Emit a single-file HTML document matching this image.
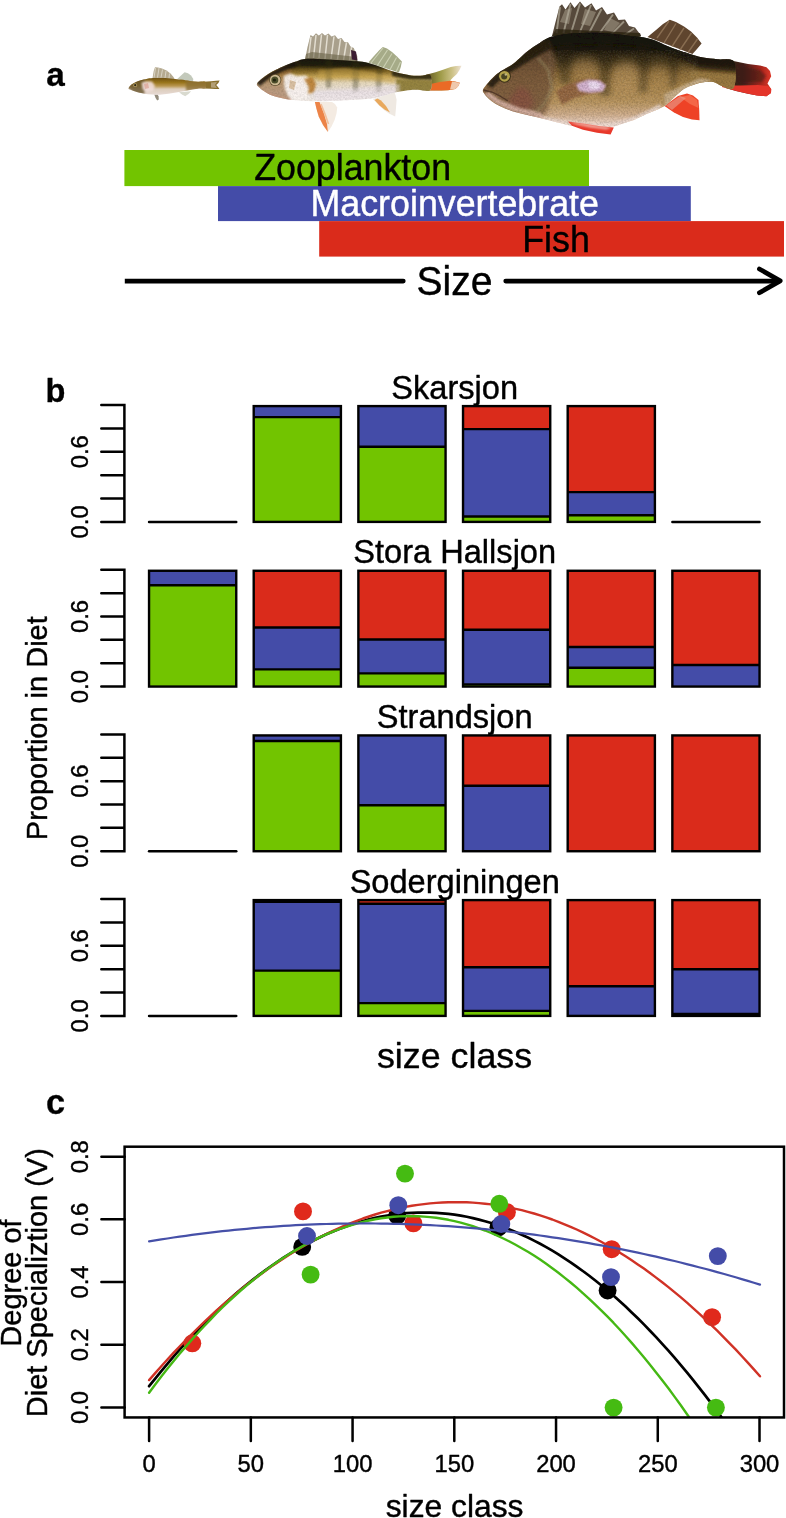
<!DOCTYPE html>
<html lang="en"><head><meta charset="utf-8"><title>Diet figure</title>
<style>html,body{margin:0;padding:0;background:#fff}body{width:786px;height:1518px;overflow:hidden}svg{display:block}text{font-family:"Liberation Sans",sans-serif;fill:#000}</style></head><body>
<svg width="786" height="1518" viewBox="0 0 786 1518">
<rect width="786" height="1518" fill="#fff"/>
<defs>
<filter id="soft" x="-5%" y="-10%" width="110%" height="120%"><feGaussianBlur stdDeviation="0.55"/></filter>
<filter id="b1" x="-30%" y="-30%" width="160%" height="160%"><feGaussianBlur stdDeviation="1.2"/></filter>
<filter id="b2" x="-30%" y="-30%" width="160%" height="160%"><feGaussianBlur stdDeviation="2.5"/></filter>
<filter id="b4" x="-40%" y="-40%" width="180%" height="180%"><feGaussianBlur stdDeviation="4.5"/></filter>
<filter id="scales" x="0" y="0" width="100%" height="100%"><feTurbulence type="fractalNoise" baseFrequency="0.55" numOctaves="2" seed="7"/><feColorMatrix type="matrix" values="0 0 0 0 0  0 0 0 0 0  0 0 0 0 0  1.6 0 0 0 -0.55"/></filter>
<filter id="scalesw" x="0" y="0" width="100%" height="100%"><feTurbulence type="fractalNoise" baseFrequency="0.6" numOctaves="2" seed="3"/><feColorMatrix type="matrix" values="0 0 0 0 1  0 0 0 0 0.95  0 0 0 0 0.85  0 1.6 0 0 -0.6"/></filter>
<linearGradient id="gL" gradientUnits="userSpaceOnUse" x1="0" y1="33" x2="0" y2="129"><stop offset="0" stop-color="#14100a"/><stop offset="0.18" stop-color="#1f190c"/><stop offset="0.3" stop-color="#4a3a1c"/><stop offset="0.42" stop-color="#8a6a36"/><stop offset="0.55" stop-color="#a8844a"/><stop offset="0.72" stop-color="#b8945e"/><stop offset="0.85" stop-color="#d0ae8c"/><stop offset="0.94" stop-color="#ead0c0"/><stop offset="1" stop-color="#f6eae4"/></linearGradient>
<linearGradient id="gLtail" gradientUnits="userSpaceOnUse" x1="726" y1="0" x2="772" y2="0"><stop offset="0" stop-color="#2c2014"/><stop offset="0.4" stop-color="#45201a"/><stop offset="0.75" stop-color="#a3261c"/><stop offset="1" stop-color="#e2382a"/></linearGradient>
<clipPath id="cL"><path d="M483.1 89.6C483.8 87.8 486.4 84.9 488.5 82.5C490.6 80.1 493.0 77.4 495.4 75.3C497.8 73.2 500.3 71.7 503.0 70.0C505.7 68.3 508.8 67.1 511.6 65.1C514.4 63.1 517.3 60.4 520.0 58.0C522.7 55.6 524.5 53.4 527.9 50.9C531.2 48.4 536.0 45.1 540.1 42.7C544.2 40.3 546.6 38.2 552.4 36.6C558.2 35.0 566.6 33.9 575.0 33.3C583.4 32.7 594.2 32.6 602.7 33.0C611.2 33.4 619.3 34.7 626.0 35.4C632.7 36.1 638.1 36.4 642.9 37.2C647.7 38.1 651.0 39.1 655.0 40.5C659.0 41.9 662.7 44.1 666.7 45.8C670.7 47.5 674.6 49.0 679.0 50.5C683.4 52.0 689.2 53.8 693.2 55.0C697.2 56.2 699.1 56.9 703.2 57.6C707.3 58.3 712.6 58.8 717.6 59.3C722.6 59.8 729.9 58.2 733.0 60.5C736.1 62.8 736.0 68.3 736.0 73.0C736.0 77.7 735.4 86.3 733.0 88.5C730.6 90.7 725.0 87.1 721.7 86.0C718.5 84.9 716.3 82.7 713.5 82.0C710.7 81.3 707.7 81.8 705.0 82.0C702.3 82.2 699.7 82.8 697.2 83.5C694.7 84.2 692.4 85.0 690.0 86.0C687.6 87.0 685.7 87.7 683.0 89.6C680.3 91.5 677.0 94.8 674.0 97.5C671.0 100.2 669.3 103.2 664.7 105.9C660.1 108.7 651.4 111.7 646.4 114.0C641.4 116.3 638.4 118.1 635.0 119.5C631.6 120.9 629.6 121.4 626.0 122.6C622.4 123.8 617.7 125.7 613.4 126.6C609.1 127.5 604.1 127.9 600.0 128.2C595.9 128.5 593.0 128.7 589.0 128.4C585.0 128.1 580.1 127.3 576.0 126.6C571.9 125.9 568.9 125.2 564.6 124.2C560.3 123.2 554.8 121.7 550.0 120.5C545.2 119.3 540.6 118.1 536.1 117.0C531.6 115.9 527.1 115.0 523.0 114.0C518.9 113.0 514.9 112.0 511.6 110.9C508.3 109.8 505.7 108.7 503.0 107.5C500.3 106.3 497.7 105.2 495.4 103.8C493.1 102.4 490.9 100.7 489.0 99.0C487.1 97.3 485.2 95.2 484.2 93.6C483.2 92.0 482.4 91.4 483.1 89.6Z"/></clipPath>
<linearGradient id="gM" gradientUnits="userSpaceOnUse" x1="0" y1="58" x2="0" y2="102"><stop offset="0" stop-color="#1f1b0a"/><stop offset="0.17" stop-color="#352d0f"/><stop offset="0.3" stop-color="#806524"/><stop offset="0.42" stop-color="#c4a456"/><stop offset="0.56" stop-color="#e6d8ba"/><stop offset="0.78" stop-color="#eae2e0"/><stop offset="1" stop-color="#f4eee8"/></linearGradient>
<linearGradient id="gMtail" gradientUnits="userSpaceOnUse" x1="425" y1="0" x2="462" y2="0"><stop offset="0" stop-color="#5c5220"/><stop offset="0.4" stop-color="#9c9844"/><stop offset="0.75" stop-color="#cfc48a"/><stop offset="1" stop-color="#f0e4d8"/></linearGradient>
<clipPath id="cM"><path d="M256.9 83.8C257.4 82.3 260.1 80.2 262.0 78.5C263.9 76.8 266.0 75.4 268.3 73.9C270.6 72.5 273.4 71.1 276.0 69.8C278.6 68.5 280.3 67.6 283.6 66.2C286.9 64.8 292.2 62.8 295.8 61.6C299.4 60.4 299.9 59.3 305.0 58.9C310.1 58.5 319.6 59.1 326.3 59.4C333.0 59.6 339.9 60.1 345.0 60.4C350.1 60.7 353.0 60.9 356.9 61.3C360.8 61.7 364.1 61.9 368.3 62.9C372.5 63.9 377.4 65.9 382.0 67.5C386.6 69.1 390.9 71.0 395.8 72.3C400.7 73.6 406.5 74.9 411.1 75.4C415.7 75.9 420.2 75.6 423.3 75.4C426.4 75.2 428.6 73.4 430.0 74.5C431.4 75.6 432.0 79.3 432.0 82.0C432.0 84.7 431.7 89.1 430.0 90.5C428.3 91.9 424.9 90.4 421.8 90.3C418.7 90.2 415.4 89.6 411.1 89.9C406.8 90.2 400.3 91.3 395.8 92.2C391.3 93.1 387.8 94.5 384.0 95.5C380.2 96.5 376.9 97.6 372.9 98.3C368.9 99.0 363.8 99.3 360.0 99.6C356.2 99.9 353.1 99.9 350.0 100.1C346.9 100.3 345.6 100.4 341.6 100.6C337.6 100.8 331.1 101.1 326.0 101.2C320.9 101.3 315.6 101.4 311.1 101.3C306.6 101.2 302.8 100.9 299.0 100.6C295.2 100.3 291.5 100.0 288.2 99.5C284.9 99.0 281.8 98.3 279.0 97.6C276.2 96.9 273.8 96.2 271.4 95.2C269.0 94.2 266.5 92.8 264.5 91.5C262.5 90.2 260.5 88.9 259.2 87.6C257.9 86.3 256.4 85.3 256.9 83.8Z"/></clipPath>
<linearGradient id="gS" gradientUnits="userSpaceOnUse" x1="0" y1="77.5" x2="0" y2="95"><stop offset="0" stop-color="#6c4f10"/><stop offset="0.28" stop-color="#97731c"/><stop offset="0.48" stop-color="#b8964e"/><stop offset="0.66" stop-color="#dccdbc"/><stop offset="1" stop-color="#e8dbd6"/></linearGradient>
<clipPath id="cS"><path d="M128.5 88.4C128.7 87.5 130.2 85.7 131.5 84.6C132.8 83.5 134.4 82.7 136.0 82.0C137.6 81.3 139.2 80.7 141.0 80.2C142.8 79.7 144.5 79.3 146.5 78.9C148.5 78.5 150.2 78.2 153.0 78.0C155.8 77.8 159.7 77.9 163.0 78.0C166.3 78.1 170.0 78.4 173.0 78.7C176.0 79.0 178.2 79.2 181.0 79.6C183.8 80.0 187.2 80.7 190.0 81.0C192.8 81.3 195.5 81.6 198.0 81.7C200.5 81.8 203.7 81.2 205.0 81.7C206.3 82.2 206.0 83.9 206.0 85.0C206.0 86.1 206.3 87.8 205.0 88.4C203.7 89.0 200.5 88.4 198.0 88.7C195.5 89.0 192.7 89.5 190.0 90.0C187.3 90.5 184.8 91.1 182.0 91.6C179.2 92.1 176.0 92.6 173.0 93.0C170.0 93.4 166.8 93.9 164.0 94.2C161.2 94.5 158.7 94.8 156.0 94.8C153.3 94.8 150.5 94.6 148.0 94.3C145.5 94.0 143.2 93.5 141.0 93.0C138.8 92.5 136.2 91.7 134.5 91.2C132.8 90.7 131.5 90.3 130.5 89.8C129.5 89.3 128.3 89.3 128.5 88.4Z"/></clipPath>
</defs>
<g id="panel-a">
<text transform="translate(46.3 85.7)" font-size="33.3" text-anchor="start" font-weight="bold" style="fill:#000;stroke:#000;stroke-width:0.3px;stroke-linejoin:round">a</text>
<g id="fish-large" filter="url(#soft)">
<path d="M552.0 36.0L555.0 24.0L559.5 6.5L562.0 4.3L565.5 9.5L570.5 2.2L574.5 8.0L580.0 1.6L585.0 7.5L591.5 3.2L596.0 10.5L602.0 7.0L607.0 14.5L614.0 12.5L618.5 20.0L625.0 19.5L629.0 26.0L635.0 27.5L641.0 35.5L638.0 38.0Z" fill="#57493a"/>
<path d="M560 7L556.5 33M570.5 4L563.5 33M580 3.5L571 33M591 5L579.5 33M601.5 9L589 33M613 14.5L599 34M624 21.5L610.5 35M634 28.5L623 36" stroke="#a39c8c" stroke-width="1.9" fill="none" opacity="0.85"/>
<path d="M560 22L565 10L572 8L569 24ZM585 9L596 12L590 26L581 24ZM610 18L620 23L612 32L604 30Z" fill="#b5ad9c" opacity="0.45"/>
<path d="M552 36L556 29L640 33L641 36.5Z" fill="#2a2212" opacity="0.8"/>
<path d="M647.5 37.0L656.0 30.0L663.0 24.0L669.8 19.8L676.0 22.0L684.0 26.5L691.0 31.5L697.0 37.5L701.6 43.6L697.0 49.0L692.5 54.0Z" fill="#5e442e"/>
<path d="M669 21L657 38M676 23.5L664 43M684 28L672 46.5M691.5 33L680 50M697.5 39L688 52.5" stroke="#94785a" stroke-width="1.4" fill="none" opacity="0.8"/>
<path d="M664.5 106L674 112.5L683 117L692 119.5L699.5 120.3L699.2 110L698.5 100L693 95.5L687 93.5L678 96Z" fill="#ee4228"/>
<path d="M680 97L690 95L697 100L698.5 108L690 104Z" fill="#f46a4a" opacity="0.9"/>
<path d="M666 105.5L680 96L686 98L672 110Z" fill="#e8a090" opacity="0.6"/>
<path d="M726.0 59.5L748.0 64.0L760.0 65.5L766.5 67.2L770.0 71.0L771.2 76.3L767.5 83.5L771.2 89.0L771.0 93.0L766.5 96.3L757.0 95.5L748.0 93.8L736.0 91.0L726.0 88.0Z" fill="url(#gLtail)"/>
<path d="M722 85.5L740 85.5L758 85L768 86L771.2 89L771 93L766.5 96.3L757 95.5L748 93.8L736 91L722 87Z" fill="#e4352a"/>
<path d="M738 66L760 70L766 76L762 82L740 82Z" fill="#3a1a16" opacity="0.55" filter="url(#b1)"/>
<path d="M483.1 89.6C483.8 87.8 486.4 84.9 488.5 82.5C490.6 80.1 493.0 77.4 495.4 75.3C497.8 73.2 500.3 71.7 503.0 70.0C505.7 68.3 508.8 67.1 511.6 65.1C514.4 63.1 517.3 60.4 520.0 58.0C522.7 55.6 524.5 53.4 527.9 50.9C531.2 48.4 536.0 45.1 540.1 42.7C544.2 40.3 546.6 38.2 552.4 36.6C558.2 35.0 566.6 33.9 575.0 33.3C583.4 32.7 594.2 32.6 602.7 33.0C611.2 33.4 619.3 34.7 626.0 35.4C632.7 36.1 638.1 36.4 642.9 37.2C647.7 38.1 651.0 39.1 655.0 40.5C659.0 41.9 662.7 44.1 666.7 45.8C670.7 47.5 674.6 49.0 679.0 50.5C683.4 52.0 689.2 53.8 693.2 55.0C697.2 56.2 699.1 56.9 703.2 57.6C707.3 58.3 712.6 58.8 717.6 59.3C722.6 59.8 729.9 58.2 733.0 60.5C736.1 62.8 736.0 68.3 736.0 73.0C736.0 77.7 735.4 86.3 733.0 88.5C730.6 90.7 725.0 87.1 721.7 86.0C718.5 84.9 716.3 82.7 713.5 82.0C710.7 81.3 707.7 81.8 705.0 82.0C702.3 82.2 699.7 82.8 697.2 83.5C694.7 84.2 692.4 85.0 690.0 86.0C687.6 87.0 685.7 87.7 683.0 89.6C680.3 91.5 677.0 94.8 674.0 97.5C671.0 100.2 669.3 103.2 664.7 105.9C660.1 108.7 651.4 111.7 646.4 114.0C641.4 116.3 638.4 118.1 635.0 119.5C631.6 120.9 629.6 121.4 626.0 122.6C622.4 123.8 617.7 125.7 613.4 126.6C609.1 127.5 604.1 127.9 600.0 128.2C595.9 128.5 593.0 128.7 589.0 128.4C585.0 128.1 580.1 127.3 576.0 126.6C571.9 125.9 568.9 125.2 564.6 124.2C560.3 123.2 554.8 121.7 550.0 120.5C545.2 119.3 540.6 118.1 536.1 117.0C531.6 115.9 527.1 115.0 523.0 114.0C518.9 113.0 514.9 112.0 511.6 110.9C508.3 109.8 505.7 108.7 503.0 107.5C500.3 106.3 497.7 105.2 495.4 103.8C493.1 102.4 490.9 100.7 489.0 99.0C487.1 97.3 485.2 95.2 484.2 93.6C483.2 92.0 482.4 91.4 483.1 89.6Z" fill="url(#gL)"/>
<g clip-path="url(#cL)">
<path d="M676 42L740 55L740 72L700 68L676 56Z" fill="#1e180c" opacity="0.9" filter="url(#b2)"/>
<path d="M690 71L736 75L736 90L690 90Z" fill="#9a7a42" opacity="0.95" filter="url(#b1)"/>
<path d="M664 94L700 78L712 80L690 92L666 112Z" fill="#c9b08c" opacity="0.9" filter="url(#b1)"/>
<path d="M545 30L640 28L690 48L690 58L640 46L600 44L556 46L530 56Z" fill="#191508" opacity="0.8" filter="url(#b2)"/>
<path d="M556 36L576 36L570 84L560 84ZM597 36L614 36L610 96L600 96ZM636 38L652 40L647 92L638 92ZM668 46L680 50L676 86L669 88Z" fill="#231c0c" opacity="0.38" filter="url(#b2)"/>
<ellipse cx="585" cy="70" rx="14" ry="12" fill="#b48c54" opacity="0.5" filter="url(#b4)"/>
<ellipse cx="626" cy="78" rx="14" ry="16" fill="#bc9660" opacity="0.55" filter="url(#b4)"/>
<ellipse cx="660" cy="80" rx="12" ry="12" fill="#ac8850" opacity="0.5" filter="url(#b4)"/>
<path d="M478 94L496 74L512 64L530 48L548 40L556 62L552 90L546 112L536 119L505 110L486 98Z" fill="#74543a" opacity="0.8" filter="url(#b2)"/>
<path d="M486 84L497 73L512 63L530 48L548 38L552 48L534 58L518 68L504 76L492 88Z" fill="#241c10" opacity="0.85" filter="url(#b1)"/>
<path d="M508 100L520 86L530 92L534 104L526 112L512 108Z" fill="#8a4e42" opacity="0.6" filter="url(#b2)"/>
<path d="M484 94L495 103L511 110.5L530 116L546 120L540 112L520 108L500 100L489 92Z" fill="#d9b4a6" opacity="0.9" filter="url(#b1)"/>
<path d="M483.5 90L492 92L500 96L508 101" stroke="#4a3024" stroke-width="1.3" fill="none" opacity="0.8"/>
<path d="M538 58L548 70L552 88L544 104L536 112" stroke="#9a8a62" stroke-width="3" fill="none" opacity="0.55" filter="url(#b1)"/>
<path d="M556 91L568 84L582 79.5L596 79L606 84L602 92L588 94L574 98L562 105Z" fill="#8d5e3c" opacity="0.85" filter="url(#b1)"/>
<path d="M576 84L588 79.5L600 80.5L606 85.5L603 91.5L590 93L579 91Z" fill="#dcbce0" opacity="0.9" filter="url(#b1)"/>
<path d="M588 82L596 81.5L601 85L598 89L590 89Z" fill="#f1e2f6" opacity="0.9" filter="url(#b1)"/>
<path d="M540 116L566 121L590 124.5L614 123L636 116L660 104L662 112L640 124L600 132L560 128Z" fill="#eddbd2" opacity="0.85" filter="url(#b1)"/>
<rect x="478" y="30" width="262" height="100" filter="url(#scales)" opacity="0.2"/>
<rect x="548" y="50" width="150" height="74" filter="url(#scalesw)" opacity="0.13"/>
</g>
<path d="M568 121.5L585 123.8L600 126.2L613.8 127.6L610.6 134.4L597 132.8L583 129.8L572 125.8Z" fill="#e8392b"/>
<path d="M568 121.5L585 123.8L600 126.2L612 127.4L606 129.4L590 127.6L576 124.6Z" fill="#f3c4b8" opacity="0.85" filter="url(#b1)"/>
<circle cx="504.5" cy="76.3" r="6.4" fill="#3a3018"/>
<circle cx="504.5" cy="76.3" r="5.4" fill="#b3a24a"/>
<circle cx="504.2" cy="76.6" r="3" fill="#4a4424"/>
<circle cx="505.8" cy="74.6" r="1.2" fill="#d8d09a" opacity="0.8"/>
</g>
<g id="fish-medium" filter="url(#soft)">
<path d="M305.0 59.5L307.5 47.0L310.5 35.0L313.0 36.5L316.0 33.2L318.8 35.6L322.0 33.0L325.0 35.6L328.5 33.6L331.5 36.6L335.0 35.2L338.0 39.0L341.5 38.0L344.5 42.0L348.0 42.2L350.5 46.4L353.8 48.0L355.3 52.0L357.3 56.0L357.5 62.0Z" fill="#a9a08c"/>
<path d="M311 37L308.5 58M316 35L313.5 58M321.5 34.5L319 58M327.5 35L325 59M334 36.5L331 59M340.5 39L337.5 59.5M346.5 42.5L343.5 60M351.5 47L349.5 60.5" stroke="#ece7dc" stroke-width="1.5" fill="none" opacity="0.85"/>
<path d="M306 54L312 52L330 54L348 56L356 57L357.3 61.5L305 59.5Z" fill="#6a6248" opacity="0.6"/>
<path d="M351 50L356 51.5L357.4 60.5L352 59.5Z" fill="#3a1e30"/>
<path d="M368.3 62.4L374.0 56.0L379.5 50.0L382.8 46.9L387.0 48.5L392.0 52.0L397.0 56.5L401.9 61.6L400.8 67.0L398.9 72.5Z" fill="#a6ab88"/>
<path d="M383 48L371 63M387.5 50L377 66M392 53.5L383 68M396.5 57.5L389.5 70.5M400.5 62L396 72" stroke="#d3d8bc" stroke-width="1.2" fill="none" opacity="0.8"/>
<path d="M314.9 102L316.5 109L318.7 116.6L323 125L327.9 132L331.5 126.5L334.7 119.7L336.6 113L337.2 107.4L335 104L332 102Z" fill="#f4ebe2"/>
<path d="M314.9 102L316.5 109L318.7 116.6L323 125L327.9 132L327 124L324 114L321 106L319.5 102Z" fill="#ec8346"/>
<path d="M321 104L325 114L328.5 124" stroke="#f0b48a" stroke-width="1.6" fill="none" opacity="0.8"/>
<path d="M372.9 99L378 104.5L383.6 109.7L389 113.5L395.2 116.4L396 108L396.6 99.8L395.5 95L394.3 92.2Z" fill="#efe9e2"/>
<path d="M374.5 100L379.5 105.5L384.5 109.5L390 112.5L386 106L381 100.5L377.5 98.5Z" fill="#e8a85c"/>
<path d="M423.3 75.4L435.5 72.3L443.0 69.8L450.8 67.0L456.0 66.0L461.5 65.8L459.5 70.0L456.9 73.9L453.0 77.5L450.0 80.7L455.0 81.5L459.9 82.7L458.0 86.5L455.3 89.1L448.0 90.2L441.6 90.6L421.8 90.3Z" fill="url(#gMtail)"/>
<path d="M428 84.5L440 82L450 80.7L455 81.5L459.9 82.7L458 86.5L455.3 89.1L448 90.2L441.6 90.6L428 90.4Z" fill="#ea6a28"/>
<path d="M452 81.5L459.9 82.7L458 86.5L455.3 89.1L450 89.5Z" fill="#f0d8c4" opacity="0.85"/>
<path d="M256.9 83.8C257.4 82.3 260.1 80.2 262.0 78.5C263.9 76.8 266.0 75.4 268.3 73.9C270.6 72.5 273.4 71.1 276.0 69.8C278.6 68.5 280.3 67.6 283.6 66.2C286.9 64.8 292.2 62.8 295.8 61.6C299.4 60.4 299.9 59.3 305.0 58.9C310.1 58.5 319.6 59.1 326.3 59.4C333.0 59.6 339.9 60.1 345.0 60.4C350.1 60.7 353.0 60.9 356.9 61.3C360.8 61.7 364.1 61.9 368.3 62.9C372.5 63.9 377.4 65.9 382.0 67.5C386.6 69.1 390.9 71.0 395.8 72.3C400.7 73.6 406.5 74.9 411.1 75.4C415.7 75.9 420.2 75.6 423.3 75.4C426.4 75.2 428.6 73.4 430.0 74.5C431.4 75.6 432.0 79.3 432.0 82.0C432.0 84.7 431.7 89.1 430.0 90.5C428.3 91.9 424.9 90.4 421.8 90.3C418.7 90.2 415.4 89.6 411.1 89.9C406.8 90.2 400.3 91.3 395.8 92.2C391.3 93.1 387.8 94.5 384.0 95.5C380.2 96.5 376.9 97.6 372.9 98.3C368.9 99.0 363.8 99.3 360.0 99.6C356.2 99.9 353.1 99.9 350.0 100.1C346.9 100.3 345.6 100.4 341.6 100.6C337.6 100.8 331.1 101.1 326.0 101.2C320.9 101.3 315.6 101.4 311.1 101.3C306.6 101.2 302.8 100.9 299.0 100.6C295.2 100.3 291.5 100.0 288.2 99.5C284.9 99.0 281.8 98.3 279.0 97.6C276.2 96.9 273.8 96.2 271.4 95.2C269.0 94.2 266.5 92.8 264.5 91.5C262.5 90.2 260.5 88.9 259.2 87.6C257.9 86.3 256.4 85.3 256.9 83.8Z" fill="url(#gM)"/>
<g clip-path="url(#cM)">
<path d="M392 62L436 70L436 80L410 80L392 76Z" fill="#28240e" opacity="0.85" filter="url(#b1)"/>
<path d="M396 79L434 80L434 92L396 94Z" fill="#8c7a30" opacity="0.9" filter="url(#b1)"/>
<path d="M298 56L400 62L400 68L300 66Z" fill="#15130a" opacity="0.6" filter="url(#b1)"/>
<path d="M252 80L270 70L284 64L292 70L288 86L290 101L270 98L256 90Z" fill="#9a6c40" opacity="0.6" filter="url(#b1)"/>
<path d="M256 82L268 73.5L284 65.5L296 61L298 66L284 71L270 78L260 86Z" fill="#1d190c" opacity="0.85" filter="url(#b1)"/>
<path d="M258 88L270 93L282 97L292 99L290 102L270 98L258 91Z" fill="#c7967c" opacity="0.8" filter="url(#b1)"/>
<path d="M283.5 76L290 73.5L297 76L306 75.5L310 80L307 86L311 92L306 99L296 100L288 96L284.5 88Z" fill="#faf4f0" opacity="0.92" filter="url(#b1)"/>
<path d="M304 79L312 77L316 84L314 92L308 94L309 87Z" fill="#b7792c" opacity="0.85" filter="url(#b1)"/>
<path d="M290 80L296 82L294 90L289 88Z" fill="#cfae84" opacity="0.7"/>
<path d="M325 60L333 60L331 88L326 88ZM352 62L360 62L358 92L353 92ZM376 65L383 67L381 92L376 92Z" fill="#343012" opacity="0.32" filter="url(#b1)"/>
<path d="M314 92L400 84L400 96L314 104Z" fill="#ebe2ea" opacity="0.5" filter="url(#b1)"/>
<rect x="254" y="56" width="182" height="48" filter="url(#scales)" opacity="0.12"/>
<path d="M318 70L345 68L372 72L395 78L395 84L370 80L345 78L318 80Z" fill="#caa650" opacity="0.45" filter="url(#b1)"/>
</g>
<circle cx="275.2" cy="80" r="6.1" fill="#5a4a2c"/>
<circle cx="275.2" cy="80" r="5.3" fill="#cdb992"/>
<circle cx="274.8" cy="80" r="3.5" fill="#4c4e2a"/>
<circle cx="274.4" cy="80" r="1.6" fill="#20200f"/>
</g>
<g id="fish-small" filter="url(#soft)">
<path d="M152.5 78.3L153.7 71L155 67.2L158 67.4L162 68.6L166.5 70.6L170.5 73.4L173.5 77L174.5 79Z" fill="#b5aa90"/>
<path d="M155.5 68L154 77.5M159 68L157.5 77.5M162.5 69.5L161 77.5M166 71L165 78M169.5 73.5L169 78" stroke="#e6e2d6" stroke-width="0.9" fill="none" opacity="0.8"/>
<path d="M177 79.2L181 75.5L184.6 72.2L188 73.2L191 75.6L193.3 79L193 81.5Z" fill="#c3c9bb"/>
<path d="M154.3 94.6L155.6 98L157.2 100.6L158.8 99.6L158.6 96.5L157.6 94.4Z" fill="#938b7c"/>
<path d="M179 92.2L182 94.6L185.2 96.2L188.5 94L191.2 91.2Z" fill="#d9dacf"/>
<path d="M203 81.7L211 81.3L216 80.8L219.6 80.6L218.4 83L216.2 84.9L218 87L219.4 88.9L215 89L211 88.7L203 88.5Z" fill="#8a702e"/>
<path d="M211 82.5L217 82L215 85L217 88L211 87.5Z" fill="#c4b494" opacity="0.7"/>
<path d="M128.5 88.4C128.7 87.5 130.2 85.7 131.5 84.6C132.8 83.5 134.4 82.7 136.0 82.0C137.6 81.3 139.2 80.7 141.0 80.2C142.8 79.7 144.5 79.3 146.5 78.9C148.5 78.5 150.2 78.2 153.0 78.0C155.8 77.8 159.7 77.9 163.0 78.0C166.3 78.1 170.0 78.4 173.0 78.7C176.0 79.0 178.2 79.2 181.0 79.6C183.8 80.0 187.2 80.7 190.0 81.0C192.8 81.3 195.5 81.6 198.0 81.7C200.5 81.8 203.7 81.2 205.0 81.7C206.3 82.2 206.0 83.9 206.0 85.0C206.0 86.1 206.3 87.8 205.0 88.4C203.7 89.0 200.5 88.4 198.0 88.7C195.5 89.0 192.7 89.5 190.0 90.0C187.3 90.5 184.8 91.1 182.0 91.6C179.2 92.1 176.0 92.6 173.0 93.0C170.0 93.4 166.8 93.9 164.0 94.2C161.2 94.5 158.7 94.8 156.0 94.8C153.3 94.8 150.5 94.6 148.0 94.3C145.5 94.0 143.2 93.5 141.0 93.0C138.8 92.5 136.2 91.7 134.5 91.2C132.8 90.7 131.5 90.3 130.5 89.8C129.5 89.3 128.3 89.3 128.5 88.4Z" fill="url(#gS)"/>
<g clip-path="url(#cS)">
<path d="M126 86L134 81L144 78L146 84L144 95L134 93Z" fill="#66522a" opacity="0.8" filter="url(#b1)"/>
<path d="M141.5 82.5L146 81.2L152 81.6L155 86L153 91L146 92L142.5 89Z" fill="#f1dedb" opacity="0.9" filter="url(#b1)"/>
<path d="M144 84L148 83L149 88L145 89Z" fill="#d89a8c" opacity="0.6"/>
<path d="M186 80L208 81L208 89L186 91Z" fill="#8c7030" opacity="0.8" filter="url(#b1)"/>
</g>
<circle cx="135.2" cy="85.2" r="1.9" fill="#b09a60"/>
<circle cx="135.2" cy="85.2" r="1.1" fill="#2c2614"/>
</g>
<rect x="124.4" y="150" width="464.6" height="36.1" fill="#72c400"/>
<text transform="translate(352.6 179.9) scale(1 1.02)" font-size="35.8" text-anchor="middle" style="fill:#000;stroke:#000;stroke-width:0.4px;stroke-linejoin:round">Zooplankton</text>
<rect x="218" y="186.1" width="472.8" height="35" fill="#444ca8"/>
<text transform="translate(454.7 216.3) scale(1 1.02)" font-size="35.8" text-anchor="middle" style="fill:#fff;stroke:#fff;stroke-width:0.4px;stroke-linejoin:round">Macroinvertebrate</text>
<rect x="319.2" y="221.1" width="464.8" height="35.5" fill="#da2b1b"/>
<text transform="translate(556 251.5) scale(1 1.02)" font-size="35.8" text-anchor="middle" style="fill:#000;stroke:#000;stroke-width:0.4px;stroke-linejoin:round">Fish</text>
<text transform="translate(454.4 295.3) scale(1 1.05)" font-size="39" text-anchor="middle" style="fill:#000;stroke:#000;stroke-width:0.4px;stroke-linejoin:round">Size</text>
<path d="M124.8 278.7H403.3A2.35 2.35 0 0 1 403.3 283.4H124.8ZM505.7 278.7A2.35 2.35 0 0 0 505.7 283.4H780V278.7Z" fill="#000"/>
<path d="M759.4 269L780.2 280.9L759.4 292.8" fill="none" stroke="#000" stroke-width="4.7" stroke-linecap="round" stroke-linejoin="round"/>
</g>
<g id="panel-b">
<text transform="translate(45.5 401.6)" font-size="32.6" text-anchor="start" font-weight="bold" style="fill:#000;stroke:#000;stroke-width:0.3px;stroke-linejoin:round">b</text>
<text transform="translate(454.7 398.7) scale(1 1.02)" font-size="32.6" text-anchor="middle" style="fill:#000;stroke:#000;stroke-width:0.4px;stroke-linejoin:round">Skarsjon</text>
<path d="M101.3 405.10H124.4V521.90H101.3M101.3 498.54H124.4M101.3 475.18H124.4M101.3 451.82H124.4M101.3 428.46H124.4" fill="none" stroke="#000" stroke-width="2.5" stroke-linecap="round"/>
<text transform="translate(87.6 521.9) rotate(-90) scale(1 1.03)" font-size="23.8" text-anchor="middle" style="fill:#000;stroke:#000;stroke-width:0.4px;stroke-linejoin:round">0.0</text>
<text transform="translate(87.6 451.8) rotate(-90) scale(1 1.03)" font-size="23.8" text-anchor="middle" style="fill:#000;stroke:#000;stroke-width:0.4px;stroke-linejoin:round">0.6</text>
<path d="M149.05 521.90H236.25" stroke="#000" stroke-width="2.5" stroke-linecap="round" fill="none"/>
<g stroke="#000" stroke-width="2.4"><rect x="253.71" y="417.10" width="87.2" height="104.80" fill="#72c400" stroke="none"/><rect x="253.71" y="406.10" width="87.2" height="11.00" fill="#444ca8" stroke="none"/><path d="M253.71 417.10h87.2" fill="none"/><rect x="253.71" y="406.10" width="87.2" height="115.80" fill="none"/></g>
<g stroke="#000" stroke-width="2.4"><rect x="358.37" y="446.80" width="87.2" height="75.10" fill="#72c400" stroke="none"/><rect x="358.37" y="406.10" width="87.2" height="40.70" fill="#444ca8" stroke="none"/><path d="M358.37 446.80h87.2" fill="none"/><rect x="358.37" y="406.10" width="87.2" height="115.80" fill="none"/></g>
<g stroke="#000" stroke-width="2.4"><rect x="463.03" y="516.50" width="87.2" height="5.40" fill="#72c400" stroke="none"/><rect x="463.03" y="429.10" width="87.2" height="87.40" fill="#444ca8" stroke="none"/><rect x="463.03" y="406.10" width="87.2" height="23.00" fill="#da2b1b" stroke="none"/><path d="M463.03 516.50h87.2M463.03 429.10h87.2" fill="none"/><rect x="463.03" y="406.10" width="87.2" height="115.80" fill="none"/></g>
<g stroke="#000" stroke-width="2.4"><rect x="567.69" y="515.30" width="87.2" height="6.60" fill="#72c400" stroke="none"/><rect x="567.69" y="492.10" width="87.2" height="23.20" fill="#444ca8" stroke="none"/><rect x="567.69" y="406.10" width="87.2" height="86.00" fill="#da2b1b" stroke="none"/><path d="M567.69 515.30h87.2M567.69 492.10h87.2" fill="none"/><rect x="567.69" y="406.10" width="87.2" height="115.80" fill="none"/></g>
<path d="M672.35 521.90H759.55" stroke="#000" stroke-width="2.5" stroke-linecap="round" fill="none"/>
<text transform="translate(454.7 563.4) scale(1 1.02)" font-size="32.6" text-anchor="middle" style="fill:#000;stroke:#000;stroke-width:0.4px;stroke-linejoin:round">Stora Hallsjon</text>
<path d="M101.3 569.77H124.4V686.57H101.3M101.3 663.21H124.4M101.3 639.85H124.4M101.3 616.49H124.4M101.3 593.13H124.4" fill="none" stroke="#000" stroke-width="2.5" stroke-linecap="round"/>
<text transform="translate(87.6 686.6) rotate(-90) scale(1 1.03)" font-size="23.8" text-anchor="middle" style="fill:#000;stroke:#000;stroke-width:0.4px;stroke-linejoin:round">0.0</text>
<text transform="translate(87.6 616.5) rotate(-90) scale(1 1.03)" font-size="23.8" text-anchor="middle" style="fill:#000;stroke:#000;stroke-width:0.4px;stroke-linejoin:round">0.6</text>
<g stroke="#000" stroke-width="2.4"><rect x="149.05" y="585.20" width="87.2" height="101.37" fill="#72c400" stroke="none"/><rect x="149.05" y="570.77" width="87.2" height="14.43" fill="#444ca8" stroke="none"/><path d="M149.05 585.20h87.2" fill="none"/><rect x="149.05" y="570.77" width="87.2" height="115.80" fill="none"/></g>
<g stroke="#000" stroke-width="2.4"><rect x="253.71" y="669.40" width="87.2" height="17.17" fill="#72c400" stroke="none"/><rect x="253.71" y="627.50" width="87.2" height="41.90" fill="#444ca8" stroke="none"/><rect x="253.71" y="570.77" width="87.2" height="56.73" fill="#da2b1b" stroke="none"/><path d="M253.71 669.40h87.2M253.71 627.50h87.2" fill="none"/><rect x="253.71" y="570.77" width="87.2" height="115.80" fill="none"/></g>
<g stroke="#000" stroke-width="2.4"><rect x="358.37" y="673.40" width="87.2" height="13.17" fill="#72c400" stroke="none"/><rect x="358.37" y="639.50" width="87.2" height="33.90" fill="#444ca8" stroke="none"/><rect x="358.37" y="570.77" width="87.2" height="68.73" fill="#da2b1b" stroke="none"/><path d="M358.37 673.40h87.2M358.37 639.50h87.2" fill="none"/><rect x="358.37" y="570.77" width="87.2" height="115.80" fill="none"/></g>
<g stroke="#000" stroke-width="2.4"><rect x="463.03" y="684.40" width="87.2" height="2.17" fill="#72c400" stroke="none"/><rect x="463.03" y="629.70" width="87.2" height="54.70" fill="#444ca8" stroke="none"/><rect x="463.03" y="570.77" width="87.2" height="58.93" fill="#da2b1b" stroke="none"/><path d="M463.03 684.40h87.2M463.03 629.70h87.2" fill="none"/><rect x="463.03" y="570.77" width="87.2" height="115.80" fill="none"/></g>
<g stroke="#000" stroke-width="2.4"><rect x="567.69" y="667.80" width="87.2" height="18.77" fill="#72c400" stroke="none"/><rect x="567.69" y="647.00" width="87.2" height="20.80" fill="#444ca8" stroke="none"/><rect x="567.69" y="570.77" width="87.2" height="76.23" fill="#da2b1b" stroke="none"/><path d="M567.69 667.80h87.2M567.69 647.00h87.2" fill="none"/><rect x="567.69" y="570.77" width="87.2" height="115.80" fill="none"/></g>
<g stroke="#000" stroke-width="2.4"><rect x="672.35" y="665.00" width="87.2" height="21.57" fill="#444ca8" stroke="none"/><rect x="672.35" y="570.77" width="87.2" height="94.23" fill="#da2b1b" stroke="none"/><path d="M672.35 665.00h87.2" fill="none"/><rect x="672.35" y="570.77" width="87.2" height="115.80" fill="none"/></g>
<text transform="translate(454.7 728.0) scale(1 1.02)" font-size="32.6" text-anchor="middle" style="fill:#000;stroke:#000;stroke-width:0.4px;stroke-linejoin:round">Strandsjon</text>
<path d="M101.3 734.43H124.4V851.23H101.3M101.3 827.87H124.4M101.3 804.51H124.4M101.3 781.15H124.4M101.3 757.79H124.4" fill="none" stroke="#000" stroke-width="2.5" stroke-linecap="round"/>
<text transform="translate(87.6 851.2) rotate(-90) scale(1 1.03)" font-size="23.8" text-anchor="middle" style="fill:#000;stroke:#000;stroke-width:0.4px;stroke-linejoin:round">0.0</text>
<text transform="translate(87.6 781.1) rotate(-90) scale(1 1.03)" font-size="23.8" text-anchor="middle" style="fill:#000;stroke:#000;stroke-width:0.4px;stroke-linejoin:round">0.6</text>
<path d="M149.05 851.23H236.25" stroke="#000" stroke-width="2.5" stroke-linecap="round" fill="none"/>
<g stroke="#000" stroke-width="2.4"><rect x="253.71" y="741.00" width="87.2" height="110.23" fill="#72c400" stroke="none"/><rect x="253.71" y="735.43" width="87.2" height="5.57" fill="#444ca8" stroke="none"/><path d="M253.71 741.00h87.2" fill="none"/><rect x="253.71" y="735.43" width="87.2" height="115.80" fill="none"/></g>
<g stroke="#000" stroke-width="2.4"><rect x="358.37" y="805.30" width="87.2" height="45.93" fill="#72c400" stroke="none"/><rect x="358.37" y="735.43" width="87.2" height="69.87" fill="#444ca8" stroke="none"/><path d="M358.37 805.30h87.2" fill="none"/><rect x="358.37" y="735.43" width="87.2" height="115.80" fill="none"/></g>
<g stroke="#000" stroke-width="2.4"><rect x="463.03" y="785.70" width="87.2" height="65.53" fill="#444ca8" stroke="none"/><rect x="463.03" y="735.43" width="87.2" height="50.27" fill="#da2b1b" stroke="none"/><path d="M463.03 785.70h87.2" fill="none"/><rect x="463.03" y="735.43" width="87.2" height="115.80" fill="none"/></g>
<g stroke="#000" stroke-width="2.4"><rect x="567.69" y="735.43" width="87.2" height="115.80" fill="#da2b1b" stroke="none"/><rect x="567.69" y="735.43" width="87.2" height="115.80" fill="none"/></g>
<g stroke="#000" stroke-width="2.4"><rect x="672.35" y="735.43" width="87.2" height="115.80" fill="#da2b1b" stroke="none"/><rect x="672.35" y="735.43" width="87.2" height="115.80" fill="none"/></g>
<text transform="translate(454.7 892.7) scale(1 1.02)" font-size="32.6" text-anchor="middle" style="fill:#000;stroke:#000;stroke-width:0.4px;stroke-linejoin:round">Soderginingen</text>
<path d="M101.3 899.10H124.4V1015.90H101.3M101.3 992.54H124.4M101.3 969.18H124.4M101.3 945.82H124.4M101.3 922.46H124.4" fill="none" stroke="#000" stroke-width="2.5" stroke-linecap="round"/>
<text transform="translate(87.6 1015.9) rotate(-90) scale(1 1.03)" font-size="23.8" text-anchor="middle" style="fill:#000;stroke:#000;stroke-width:0.4px;stroke-linejoin:round">0.0</text>
<text transform="translate(87.6 945.8) rotate(-90) scale(1 1.03)" font-size="23.8" text-anchor="middle" style="fill:#000;stroke:#000;stroke-width:0.4px;stroke-linejoin:round">0.6</text>
<path d="M149.05 1015.90H236.25" stroke="#000" stroke-width="2.5" stroke-linecap="round" fill="none"/>
<g stroke="#000" stroke-width="2.4"><rect x="253.71" y="970.60" width="87.2" height="45.30" fill="#72c400" stroke="none"/><rect x="253.71" y="901.80" width="87.2" height="68.80" fill="#444ca8" stroke="none"/><rect x="253.71" y="900.10" width="87.2" height="1.70" fill="#da2b1b" stroke="none"/><path d="M253.71 970.60h87.2M253.71 901.80h87.2" fill="none"/><rect x="253.71" y="900.10" width="87.2" height="115.80" fill="none"/></g>
<g stroke="#000" stroke-width="2.4"><rect x="358.37" y="1003.10" width="87.2" height="12.80" fill="#72c400" stroke="none"/><rect x="358.37" y="903.70" width="87.2" height="99.40" fill="#444ca8" stroke="none"/><rect x="358.37" y="900.10" width="87.2" height="3.60" fill="#da2b1b" stroke="none"/><path d="M358.37 1003.10h87.2M358.37 903.70h87.2" fill="none"/><rect x="358.37" y="900.10" width="87.2" height="115.80" fill="none"/></g>
<g stroke="#000" stroke-width="2.4"><rect x="463.03" y="1010.90" width="87.2" height="5.00" fill="#72c400" stroke="none"/><rect x="463.03" y="967.20" width="87.2" height="43.70" fill="#444ca8" stroke="none"/><rect x="463.03" y="900.10" width="87.2" height="67.10" fill="#da2b1b" stroke="none"/><path d="M463.03 1010.90h87.2M463.03 967.20h87.2" fill="none"/><rect x="463.03" y="900.10" width="87.2" height="115.80" fill="none"/></g>
<g stroke="#000" stroke-width="2.4"><rect x="567.69" y="986.30" width="87.2" height="29.60" fill="#444ca8" stroke="none"/><rect x="567.69" y="900.10" width="87.2" height="86.20" fill="#da2b1b" stroke="none"/><path d="M567.69 986.30h87.2" fill="none"/><rect x="567.69" y="900.10" width="87.2" height="115.80" fill="none"/></g>
<g stroke="#000" stroke-width="2.4"><rect x="672.35" y="1014.00" width="87.2" height="1.90" fill="#72c400" stroke="none"/><rect x="672.35" y="969.20" width="87.2" height="44.80" fill="#444ca8" stroke="none"/><rect x="672.35" y="900.10" width="87.2" height="69.10" fill="#da2b1b" stroke="none"/><path d="M672.35 1014.00h87.2M672.35 969.20h87.2" fill="none"/><rect x="672.35" y="900.10" width="87.2" height="115.80" fill="none"/></g>
<text transform="translate(46.8 728.2) rotate(-90) scale(1 1.02)" font-size="29" text-anchor="middle" style="fill:#000;stroke:#000;stroke-width:0.4px;stroke-linejoin:round">Proportion in Diet</text>
<text transform="translate(454.5 1067.8)" font-size="35.8" text-anchor="middle" style="fill:#000;stroke:#000;stroke-width:0.4px;stroke-linejoin:round">size class</text>
</g>
<g id="panel-c">
<text transform="translate(46.0 1114.2)" font-size="34.3" text-anchor="start" font-weight="bold" style="fill:#000;stroke:#000;stroke-width:0.3px;stroke-linejoin:round">c</text>
<clipPath id="plotclip"><rect x="124.6" y="1146.7" width="659.4" height="270.75"/></clipPath>
<g clip-path="url(#plotclip)">
<circle cx="302.2" cy="1246.9" r="8.95" fill="#000"/>
<circle cx="397.2" cy="1215.6" r="8.95" fill="#000"/>
<circle cx="498.5" cy="1227.3" r="8.95" fill="#000"/>
<circle cx="607.6" cy="1290.5" r="8.95" fill="#000"/>
<path d="M149.1 1386.2L155.2 1378.6L161.3 1371.1L167.4 1363.8L173.5 1356.7L179.6 1349.7L185.8 1342.9L191.9 1336.3L198.0 1329.9L204.1 1323.6L210.2 1317.5L216.3 1311.6L222.4 1305.8L228.5 1300.2L234.6 1294.8L240.7 1289.6L246.8 1284.5L253.0 1279.6L259.1 1274.9L265.2 1270.4L271.3 1266.0L277.4 1261.8L283.5 1257.7L289.6 1253.9L295.7 1250.2L301.8 1246.7L307.9 1243.3L314.0 1240.2L320.1 1237.2L326.3 1234.3L332.4 1231.7L338.5 1229.2L344.6 1226.9L350.7 1224.7L356.8 1222.8L362.9 1221.0L369.0 1219.3L375.1 1217.9L381.2 1216.6L387.3 1215.5L393.5 1214.6L399.6 1213.8L405.7 1213.2L411.8 1212.8L417.9 1212.6L424.0 1212.5L430.1 1212.6L436.2 1212.8L442.3 1213.3L448.4 1213.9L454.5 1214.7L460.7 1215.6L466.8 1216.8L472.9 1218.1L479.0 1219.6L485.1 1221.2L491.2 1223.0L497.3 1225.0L503.4 1227.2L509.5 1229.5L515.6 1232.0L521.7 1234.7L527.9 1237.5L534.0 1240.6L540.1 1243.8L546.2 1247.1L552.3 1250.7L558.4 1254.4L564.5 1258.3L570.6 1262.3L576.7 1266.6L582.8 1271.0L588.9 1275.5L595.0 1280.3L601.2 1285.2L607.3 1290.3L613.4 1295.5L619.5 1301.0L625.6 1306.6L631.7 1312.4L637.8 1318.3L643.9 1324.4L650.0 1330.7L656.1 1337.2L662.2 1343.8L668.4 1350.6L674.5 1357.6L680.6 1364.8L686.7 1372.1L692.8 1379.6L698.9 1387.3L705.0 1395.1L711.1 1403.1L717.2 1411.3L723.3 1419.7L729.4 1428.2L735.6 1436.9L741.7 1445.8L747.8 1454.8L753.9 1464.0L760.0 1473.4" fill="none" stroke="#000" stroke-width="2.7" stroke-linejoin="round" stroke-linecap="round"/>
<circle cx="192.3" cy="1343.3" r="8.95" fill="#e0291c"/>
<circle cx="303" cy="1211.4" r="8.95" fill="#e0291c"/>
<circle cx="413.4" cy="1223.4" r="8.95" fill="#e0291c"/>
<circle cx="506.9" cy="1212.2" r="8.95" fill="#e0291c"/>
<circle cx="611.7" cy="1249.2" r="8.95" fill="#e0291c"/>
<circle cx="712.1" cy="1317.2" r="8.95" fill="#e0291c"/>
<path d="M149.1 1380.1L155.2 1373.1L161.3 1366.2L167.4 1359.5L173.5 1352.9L179.6 1346.5L185.8 1340.1L191.9 1334.0L198.0 1328.0L204.1 1322.1L210.2 1316.3L216.3 1310.7L222.4 1305.3L228.5 1299.9L234.6 1294.8L240.7 1289.7L246.8 1284.8L253.0 1280.1L259.1 1275.5L265.2 1271.0L271.3 1266.6L277.4 1262.4L283.5 1258.4L289.6 1254.5L295.7 1250.7L301.8 1247.1L307.9 1243.6L314.0 1240.2L320.1 1237.0L326.3 1234.0L332.4 1231.0L338.5 1228.3L344.6 1225.6L350.7 1223.1L356.8 1220.8L362.9 1218.5L369.0 1216.5L375.1 1214.5L381.2 1212.7L387.3 1211.1L393.5 1209.5L399.6 1208.2L405.7 1206.9L411.8 1205.8L417.9 1204.9L424.0 1204.1L430.1 1203.4L436.2 1202.9L442.3 1202.5L448.4 1202.2L454.5 1202.1L460.7 1202.2L466.8 1202.3L472.9 1202.6L479.0 1203.1L485.1 1203.7L491.2 1204.4L497.3 1205.3L503.4 1206.3L509.5 1207.5L515.6 1208.8L521.7 1210.2L527.9 1211.8L534.0 1213.5L540.1 1215.4L546.2 1217.4L552.3 1219.5L558.4 1221.8L564.5 1224.3L570.6 1226.8L576.7 1229.5L582.8 1232.4L588.9 1235.4L595.0 1238.5L601.2 1241.8L607.3 1245.2L613.4 1248.8L619.5 1252.5L625.6 1256.3L631.7 1260.3L637.8 1264.4L643.9 1268.6L650.0 1273.0L656.1 1277.6L662.2 1282.3L668.4 1287.1L674.5 1292.1L680.6 1297.2L686.7 1302.4L692.8 1307.8L698.9 1313.3L705.0 1319.0L711.1 1324.8L717.2 1330.7L723.3 1336.8L729.4 1343.1L735.6 1349.4L741.7 1356.0L747.8 1362.6L753.9 1369.4L760.0 1376.3" fill="none" stroke="#d03226" stroke-width="2.4" stroke-linejoin="round" stroke-linecap="round"/>
<circle cx="310.6" cy="1274.6" r="8.95" fill="#45bb12"/>
<circle cx="405" cy="1173.6" r="8.95" fill="#45bb12"/>
<circle cx="499.3" cy="1203.8" r="8.95" fill="#45bb12"/>
<circle cx="613.6" cy="1407.6" r="8.95" fill="#45bb12"/>
<circle cx="715.9" cy="1407.6" r="8.95" fill="#45bb12"/>
<path d="M149.1 1392.7L155.2 1384.5L161.3 1376.6L167.4 1368.8L173.5 1361.2L179.6 1353.8L185.8 1346.6L191.9 1339.6L198.0 1332.8L204.1 1326.2L210.2 1319.8L216.3 1313.5L222.4 1307.5L228.5 1301.7L234.6 1296.0L240.7 1290.5L246.8 1285.3L253.0 1280.2L259.1 1275.3L265.2 1270.6L271.3 1266.1L277.4 1261.8L283.5 1257.7L289.6 1253.8L295.7 1250.1L301.8 1246.6L307.9 1243.2L314.0 1240.1L320.1 1237.2L326.3 1234.4L332.4 1231.8L338.5 1229.5L344.6 1227.3L350.7 1225.3L356.8 1223.5L362.9 1221.9L369.0 1220.5L375.1 1219.3L381.2 1218.3L387.3 1217.5L393.5 1216.8L399.6 1216.4L405.7 1216.2L411.8 1216.1L417.9 1216.2L424.0 1216.6L430.1 1217.1L436.2 1217.8L442.3 1218.7L448.4 1219.8L454.5 1221.1L460.7 1222.6L466.8 1224.3L472.9 1226.2L479.0 1228.3L485.1 1230.5L491.2 1233.0L497.3 1235.7L503.4 1238.5L509.5 1241.5L515.6 1244.8L521.7 1248.2L527.9 1251.8L534.0 1255.6L540.1 1259.6L546.2 1263.8L552.3 1268.2L558.4 1272.8L564.5 1277.6L570.6 1282.5L576.7 1287.7L582.8 1293.1L588.9 1298.6L595.0 1304.4L601.2 1310.3L607.3 1316.4L613.4 1322.7L619.5 1329.3L625.6 1336.0L631.7 1342.9L637.8 1350.0L643.9 1357.2L650.0 1364.7L656.1 1372.4L662.2 1380.3L668.4 1388.3L674.5 1396.6L680.6 1405.0L686.7 1413.7L692.8 1422.5L698.9 1431.5L705.0 1440.7L711.1 1450.2L717.2 1459.8L723.3 1469.6L729.4 1479.5L735.6 1489.7L741.7 1500.1L747.8 1510.7L753.9 1521.4L760.0 1532.4" fill="none" stroke="#45b814" stroke-width="2.4" stroke-linejoin="round" stroke-linecap="round"/>
<circle cx="307" cy="1236" r="8.95" fill="#444ca8"/>
<circle cx="398.3" cy="1205.2" r="8.95" fill="#444ca8"/>
<circle cx="501.3" cy="1224" r="8.95" fill="#444ca8"/>
<circle cx="611" cy="1277.1" r="8.95" fill="#444ca8"/>
<circle cx="717.8" cy="1256.1" r="8.95" fill="#444ca8"/>
<path d="M149.1 1241.4L155.2 1240.4L161.3 1239.4L167.4 1238.5L173.5 1237.5L179.6 1236.6L185.8 1235.8L191.9 1234.9L198.0 1234.1L204.1 1233.4L210.2 1232.6L216.3 1231.9L222.4 1231.2L228.5 1230.6L234.6 1229.9L240.7 1229.3L246.8 1228.8L253.0 1228.2L259.1 1227.7L265.2 1227.2L271.3 1226.8L277.4 1226.3L283.5 1225.9L289.6 1225.6L295.7 1225.2L301.8 1224.9L307.9 1224.6L314.0 1224.4L320.1 1224.2L326.3 1224.0L332.4 1223.8L338.5 1223.7L344.6 1223.6L350.7 1223.5L356.8 1223.5L362.9 1223.4L369.0 1223.4L375.1 1223.5L381.2 1223.6L387.3 1223.7L393.5 1223.8L399.6 1223.9L405.7 1224.1L411.8 1224.3L417.9 1224.6L424.0 1224.8L430.1 1225.1L436.2 1225.5L442.3 1225.8L448.4 1226.2L454.5 1226.6L460.7 1227.1L466.8 1227.6L472.9 1228.1L479.0 1228.6L485.1 1229.2L491.2 1229.8L497.3 1230.4L503.4 1231.0L509.5 1231.7L515.6 1232.4L521.7 1233.2L527.9 1233.9L534.0 1234.7L540.1 1235.5L546.2 1236.4L552.3 1237.3L558.4 1238.2L564.5 1239.1L570.6 1240.1L576.7 1241.1L582.8 1242.1L588.9 1243.2L595.0 1244.3L601.2 1245.4L607.3 1246.5L613.4 1247.7L619.5 1248.9L625.6 1250.1L631.7 1251.4L637.8 1252.7L643.9 1254.0L650.0 1255.4L656.1 1256.7L662.2 1258.1L668.4 1259.6L674.5 1261.0L680.6 1262.5L686.7 1264.1L692.8 1265.6L698.9 1267.2L705.0 1268.8L711.1 1270.4L717.2 1272.1L723.3 1273.8L729.4 1275.5L735.6 1277.3L741.7 1279.1L747.8 1280.9L753.9 1282.7L760.0 1284.6" fill="none" stroke="#4650a8" stroke-width="2.2" stroke-linejoin="round" stroke-linecap="round"/>
</g>
<rect x="124.6" y="1146.7" width="659.4" height="270.75" fill="none" stroke="#000" stroke-width="2.5"/>
<path d="M101.4 1407.45H124.6M101.4 1344.75H124.6M101.4 1282.05H124.6M101.4 1219.35H124.6M101.4 1156.65H124.6M149.10 1417.45V1441.1M250.83 1417.45V1441.1M352.57 1417.45V1441.1M454.30 1417.45V1441.1M556.04 1417.45V1441.1M657.77 1417.45V1441.1M759.51 1417.45V1441.1" fill="none" stroke="#000" stroke-width="2.5" stroke-linecap="round"/>
<text transform="translate(88.2 1407.5) rotate(-90) scale(1 1.03)" font-size="23.8" text-anchor="middle" style="fill:#000;stroke:#000;stroke-width:0.4px;stroke-linejoin:round">0.0</text>
<text transform="translate(88.2 1344.8) rotate(-90) scale(1 1.03)" font-size="23.8" text-anchor="middle" style="fill:#000;stroke:#000;stroke-width:0.4px;stroke-linejoin:round">0.2</text>
<text transform="translate(88.2 1282.0) rotate(-90) scale(1 1.03)" font-size="23.8" text-anchor="middle" style="fill:#000;stroke:#000;stroke-width:0.4px;stroke-linejoin:round">0.4</text>
<text transform="translate(88.2 1219.4) rotate(-90) scale(1 1.03)" font-size="23.8" text-anchor="middle" style="fill:#000;stroke:#000;stroke-width:0.4px;stroke-linejoin:round">0.6</text>
<text transform="translate(88.2 1156.7) rotate(-90) scale(1 1.03)" font-size="23.8" text-anchor="middle" style="fill:#000;stroke:#000;stroke-width:0.4px;stroke-linejoin:round">0.8</text>
<text transform="translate(149.1 1471.5) scale(1 1.03)" font-size="23.8" text-anchor="middle" style="fill:#000;stroke:#000;stroke-width:0.4px;stroke-linejoin:round">0</text>
<text transform="translate(250.8 1471.5) scale(1 1.03)" font-size="23.8" text-anchor="middle" style="fill:#000;stroke:#000;stroke-width:0.4px;stroke-linejoin:round">50</text>
<text transform="translate(352.6 1471.5) scale(1 1.03)" font-size="23.8" text-anchor="middle" style="fill:#000;stroke:#000;stroke-width:0.4px;stroke-linejoin:round">100</text>
<text transform="translate(454.3 1471.5) scale(1 1.03)" font-size="23.8" text-anchor="middle" style="fill:#000;stroke:#000;stroke-width:0.4px;stroke-linejoin:round">150</text>
<text transform="translate(556.0 1471.5) scale(1 1.03)" font-size="23.8" text-anchor="middle" style="fill:#000;stroke:#000;stroke-width:0.4px;stroke-linejoin:round">200</text>
<text transform="translate(657.8 1471.5) scale(1 1.03)" font-size="23.8" text-anchor="middle" style="fill:#000;stroke:#000;stroke-width:0.4px;stroke-linejoin:round">250</text>
<text transform="translate(759.5 1471.5) scale(1 1.03)" font-size="23.8" text-anchor="middle" style="fill:#000;stroke:#000;stroke-width:0.4px;stroke-linejoin:round">300</text>
<text transform="translate(21.0 1283) rotate(-90) scale(1 1.02)" font-size="29" text-anchor="middle" style="fill:#000;stroke:#000;stroke-width:0.4px;stroke-linejoin:round">Degree of</text>
<text transform="translate(46.6 1282.7) rotate(-90) scale(1 1.02)" font-size="29" text-anchor="middle" style="fill:#000;stroke:#000;stroke-width:0.4px;stroke-linejoin:round">Diet Specializtion (V)</text>
<text transform="translate(454.6 1517.2)" font-size="31.8" text-anchor="middle" style="fill:#000;stroke:#000;stroke-width:0.4px;stroke-linejoin:round">size class</text>
</g>
</svg></body></html>
